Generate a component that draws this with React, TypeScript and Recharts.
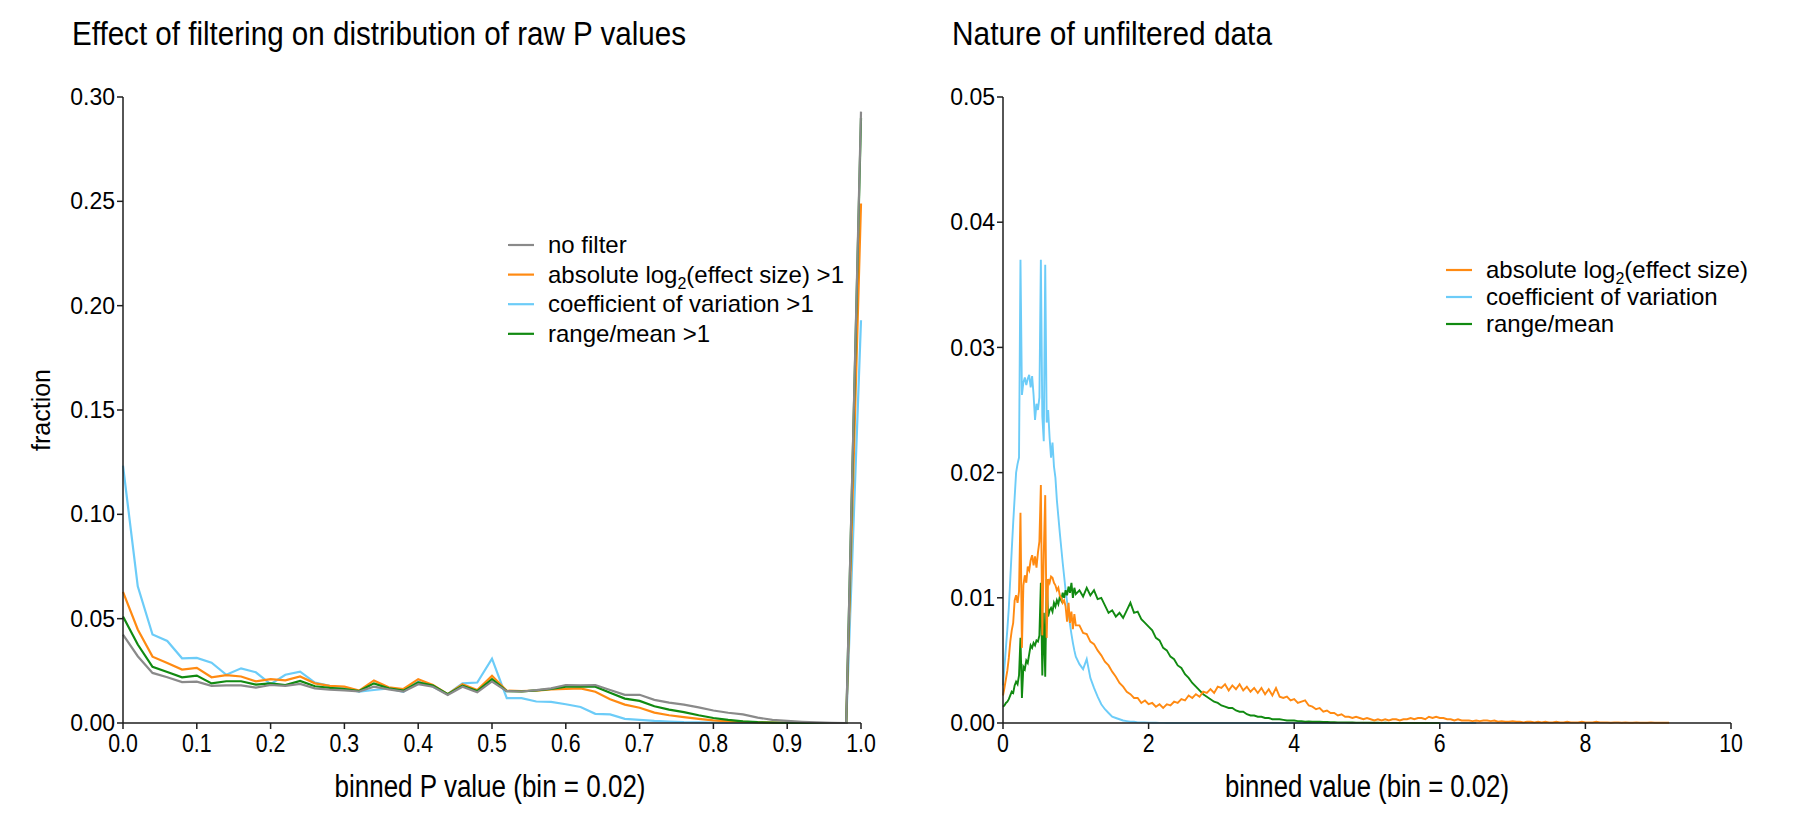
import React from "react";
import { LineChart, Line, XAxis, YAxis } from "recharts";

const ARIAL = '"Liberation Sans", Arial, sans-serif';

const GRAY = "#8a8a8a";
const ORANGE = "#ff8a12";
const BLUE = "#6cccf8";
const GREEN = "#118a11";
const AXIS = "#1e1e1e";

// ---- left panel: fraction of genes per raw P value bin (bin = 0.02) ----
const pBins = Array.from({ length: 51 }, (_, i) => Math.round(i * 2) / 100);

const noFilter = [
  0.0424, 0.032, 0.024, 0.0219, 0.0196, 0.0198, 0.0178, 0.018, 0.018, 0.017,
  0.0182, 0.0178, 0.0187, 0.0166, 0.016, 0.0156, 0.0151, 0.0174, 0.0161, 0.015,
  0.0186, 0.0174, 0.0134, 0.0174, 0.0147, 0.0199, 0.0153, 0.0151, 0.0158, 0.0166,
  0.0182, 0.0181, 0.0182, 0.0158, 0.0135, 0.0135, 0.0111, 0.0098, 0.0088, 0.0075,
  0.006, 0.0049, 0.0041, 0.0026, 0.0015, 0.001, 0.0006, 0.0003, 0.0001, 0, 0.293,
];
const absLog2 = [
  0.0628, 0.0448, 0.0318, 0.0287, 0.0256, 0.0264, 0.0219, 0.0229, 0.0223, 0.02,
  0.021, 0.0204, 0.0223, 0.019, 0.0178, 0.0174, 0.0155, 0.0204, 0.0171, 0.0163,
  0.021, 0.0182, 0.0138, 0.0186, 0.0158, 0.0226, 0.0155, 0.0153, 0.0155, 0.0161,
  0.0164, 0.0166, 0.015, 0.0114, 0.0088, 0.0073, 0.005, 0.0037, 0.0028, 0.002,
  0.0013, 0.0008, 0.0005, 0.0003, 0.0002, 0.0001, 0, 0, 0, 0, 0.249,
];
const coefVar = [
  0.1233, 0.0655, 0.0424, 0.0393, 0.031, 0.0312, 0.0289, 0.0231, 0.0262, 0.0243,
  0.0186, 0.0231, 0.0246, 0.0194, 0.0178, 0.0166, 0.015, 0.0158, 0.0166, 0.015,
  0.0199, 0.0174, 0.0138, 0.019, 0.0194, 0.0308, 0.0119, 0.0119, 0.0103, 0.0101,
  0.009, 0.0077, 0.0044, 0.0041, 0.002, 0.0015, 0.001, 0.0007, 0.0004, 0.0003,
  0.0002, 0.0001, 0.0001, 0, 0, 0, 0, 0, 0, 0, 0.193,
];
const rangeMean = [
  0.051, 0.0376, 0.0269, 0.0244, 0.0219, 0.0227, 0.019, 0.02, 0.02, 0.0184,
  0.019, 0.0182, 0.0202, 0.0176, 0.0168, 0.0163, 0.0153, 0.019, 0.0166, 0.0155,
  0.0195, 0.0179, 0.0138, 0.0179, 0.0153, 0.021, 0.0153, 0.0151, 0.0156, 0.0163,
  0.0174, 0.0174, 0.0174, 0.0145, 0.0117, 0.0106, 0.008, 0.0064, 0.0052, 0.0037,
  0.0024, 0.0015, 0.0008, 0.0004, 0.0002, 0.0001, 0, 0, 0, 0, 0.29,
];

const pTicks = [0, 0.1, 0.2, 0.3, 0.4, 0.5, 0.6, 0.7, 0.8, 0.9, 1];
const fracTicks = [0, 0.05, 0.1, 0.15, 0.2, 0.25, 0.3];

// ---- right panel: binned statistic values (bin = 0.02 near 0, coarser tail) ----
const fineBins = Array.from({ length: 51 }, (_, i) => Math.round(i * 2) / 100);
const tailBins = Array.from({ length: 163 }, (_, i) => Math.round(105 + i * 5) / 100);

const effFine = [
  0.0022, 0.0028, 0.0035, 0.0042, 0.0052, 0.0065, 0.0074, 0.008, 0.0098, 0.0102,
  0.0096, 0.0105, 0.0168, 0.006, 0.011, 0.0118, 0.0112, 0.0125, 0.0122, 0.013,
  0.0134, 0.0126, 0.0133, 0.0124, 0.0136, 0.0145, 0.019, 0.007, 0.0135, 0.0182,
  0.0068, 0.0115, 0.0112, 0.0117, 0.0116, 0.0112, 0.011, 0.0106, 0.0108, 0.0102,
  0.01, 0.0096, 0.0098, 0.0093, 0.0081, 0.0096, 0.008, 0.0089, 0.0075, 0.0087, 0.0078,
];
const effTail = [
  0.0078, 0.0072, 0.0071, 0.0065, 0.0063, 0.0058, 0.0054, 0.0049, 0.0046, 0.0041,
  0.0037, 0.0032, 0.0029, 0.0025, 0.0023, 0.002, 0.002, 0.0016, 0.0018, 0.0015,
  0.0016, 0.0013, 0.0015, 0.0012, 0.0015, 0.0014, 0.0017, 0.0016, 0.0019, 0.0018,
  0.0022, 0.002, 0.0023, 0.0021, 0.0025, 0.0024, 0.0027, 0.0024, 0.0029, 0.0028,
  0.0031, 0.0026, 0.003, 0.0027, 0.0031, 0.0026, 0.0029, 0.0025, 0.0028, 0.0024,
  0.0028, 0.0023, 0.0027, 0.0022, 0.0028, 0.0021, 0.002, 0.0021, 0.0018, 0.0019,
  0.0016, 0.0017, 0.0018, 0.0014, 0.0013, 0.0011, 0.0012, 0.0009, 0.001, 0.0008,
  0.0008, 0.0006, 0.0007, 0.0005, 0.0005, 0.0004, 0.0005, 0.0004, 0.0003, 0.0004,
  0.0003, 0.0002, 0.0003, 0.0002, 0.0003, 0.0002, 0.0003, 0.0003, 0.0002, 0.0003,
  0.0003, 0.0004, 0.0003, 0.0004, 0.0004, 0.0003, 0.0005, 0.0004, 0.0005, 0.0004,
  0.0004, 0.0003, 0.0003, 0.0002, 0.0003, 0.0002, 0.0002, 0.0002, 0.00015, 0.0002,
  0.00015, 0.0002, 0.0002, 0.00015, 0.0002, 0.0001, 0.00015, 0.0001, 0.0001, 0.00015,
  0.0001, 0.0001, 0.00005, 0.0001, 0.0001, 0.00005, 0.0001, 0.00005, 0.0001, 0.00005,
  0.00005, 0.0001, 0.00005, 0.00005, 0.0001, 0.00005, 0.00005, 0.00005, 0.0001, 0.00005,
  0.00005, 0.00005, 0.0001, 0.00005, 0.00005, 0.00005, 0.00002, 0.00005, 0.00005, 0.00002,
  0.00005, 0.00002, 0.00002, 0.00005, 0.00002, 0.00002, 0.00002, 0.00005, 0.00002, 0.00002,
  0.00002, 0.00002, 0.00002,
];

const cvFine = [
  0.003, 0.0045, 0.006, 0.0075, 0.0092, 0.0115, 0.0138, 0.016, 0.018, 0.02,
  0.0207, 0.0212, 0.037, 0.0262, 0.0272, 0.0276, 0.027, 0.0275, 0.0278, 0.0268,
  0.0277, 0.0262, 0.0242, 0.0255, 0.025, 0.026, 0.037, 0.0245, 0.0225, 0.0366,
  0.024, 0.025, 0.0228, 0.0212, 0.0224, 0.0205, 0.0196, 0.0178, 0.0165, 0.0152,
  0.014, 0.0128, 0.0117, 0.0106, 0.0097, 0.0088, 0.0079, 0.0071, 0.0064, 0.0058, 0.0053,
];
const cvTail = [
  0.0047, 0.0043, 0.0051, 0.0036, 0.0028, 0.0021, 0.0015, 0.0011, 0.0008, 0.0005,
  0.0004, 0.0003, 0.0002, 0.00015, 0.0001, 0.0001, 0.00005, 0.00005, 0.00005, 0.00003,
  0.00002, 0.00002, 0.00001, 0.00001, 0, 0.00001, 0, 0, 0, 0,
  0, 0, 0, 0, 0, 0, 0, 0, 0, 0,
  0, 0, 0, 0, 0, 0, 0, 0, 0, 0,
  0, 0, 0, 0, 0, 0, 0, 0, 0, 0,
  0, 0, 0, 0, 0, 0, 0, 0, 0, 0,
  0, 0, 0, 0, 0, 0, 0, 0, 0, 0,
  0, 0, 0, 0, 0, 0, 0, 0, 0, 0,
  0, 0, 0, 0, 0, 0, 0, 0, 0, 0,
  0, 0, 0, 0, 0, 0, 0, 0, 0, 0,
];

const rmFine = [
  0.0013, 0.0014, 0.0016, 0.0017, 0.0019, 0.0022, 0.0025, 0.0024, 0.003, 0.0033,
  0.0031, 0.0038, 0.0068, 0.002, 0.0045, 0.0043, 0.005, 0.0048, 0.0055, 0.0062,
  0.006, 0.0064, 0.0062, 0.0066, 0.0065, 0.007, 0.0112, 0.0038, 0.0088, 0.0037,
  0.0115, 0.0085, 0.009, 0.0092, 0.0089, 0.0096, 0.0093, 0.0098, 0.0095, 0.0101,
  0.0098, 0.0104, 0.01, 0.0106, 0.0102, 0.0109, 0.0104, 0.0112, 0.01, 0.0108, 0.0103,
];
const rmTail = [
  0.0106, 0.0101, 0.0108, 0.0102, 0.0106, 0.0099, 0.01, 0.0094, 0.0088, 0.009,
  0.0085, 0.0088, 0.0084, 0.009, 0.0096, 0.0088, 0.0089, 0.0083, 0.008, 0.0077,
  0.0074, 0.0068, 0.0066, 0.006, 0.0058, 0.0053, 0.0051, 0.0046, 0.0044, 0.0039,
  0.0036, 0.0032, 0.0029, 0.0026, 0.0023, 0.0021, 0.0019, 0.0017, 0.0016, 0.0014,
  0.0013, 0.0012, 0.0012, 0.001, 0.0009, 0.0009, 0.0007, 0.0006, 0.0006, 0.0005,
  0.0005, 0.0004, 0.0004, 0.0003, 0.0003, 0.0003, 0.00025, 0.0002, 0.0002, 0.0002,
  0.00015, 0.00015, 0.0001, 0.00012, 0.0001, 0.0001, 0.0001, 0.00008, 0.00008, 0.00006,
  0.00006, 0.00005, 0.00005, 0.00005, 0.00004, 0.00004, 0.00003, 0.00003, 0.00003, 0.00003,
  0.00002, 0.00002, 0.00002, 0.00001, 0.00002, 0.00001, 0.00001, 0.00001, 0, 0.00001,
  0, 0.00001, 0, 0, 0.00001, 0, 0, 0, 0, 0,
];

const valueTicks = [0, 2, 4, 6, 8, 10];
const densTicks = [0, 0.01, 0.02, 0.03, 0.04, 0.05];

const leftRows = pBins.map((x, i) => ({
  x,
  none: noFilter[i],
  eff: absLog2[i],
  cv: coefVar[i],
  rm: rangeMean[i],
}));

const rightRows = [
  ...fineBins.map((x, i) => ({ x, eff: effFine[i], cv: cvFine[i], rm: rmFine[i] })),
  ...tailBins.map((x, i) => ({ x, eff: effTail[i], cv: cvTail[i], rm: rmTail[i] })),
];

const axisLine = { stroke: AXIS, strokeWidth: 1.5 };
const yTick = { fill: "#000", fontSize: 23, fontFamily: ARIAL };

// condensed tick text (the original uses a narrow sans face)
function NarrowTick(props: any) {
  const { x, y, payload, digits } = props;
  const label = digits ? Number(payload.value).toFixed(digits) : String(payload.value);
  return (
    <text
      x={0}
      y={0}
      dy="0.71em"
      textAnchor="middle"
      fontSize={26}
      fontFamily={ARIAL}
      fill="#000"
      transform={`translate(${x},${y}) scale(0.82,1)`}
    >
      {label}
    </text>
  );
}

function NarrowText({ x, y, width, size, anchor, children }: any) {
  return (
    <text
      x={x}
      y={y}
      fontSize={size}
      fontFamily={ARIAL}
      textAnchor={anchor || "start"}
      textLength={width}
      lengthAdjust="spacingAndGlyphs"
      fill="#000"
    >
      {children}
    </text>
  );
}

function LegendBlock({ x, y, gap, items }: { x: number; y: number; gap: number; items: { color: string; label: React.ReactNode }[] }) {
  return (
    <g>
      {items.map((it, i) => (
        <g key={i}>
          <line x1={x} x2={x + 26} y1={y + i * gap} y2={y + i * gap} stroke={it.color} strokeWidth={2.2} />
          <text x={x + 40} y={y + i * gap + 8} fontSize={24} fontFamily={ARIAL} fill="#000">
            {it.label}
          </text>
        </g>
      ))}
    </g>
  );
}

const log2Label = (suffix: string) => (
  <>
    absolute log
    <tspan fontSize={16} dy={6}>2</tspan>
    <tspan dy={-6}>(effect size){suffix}</tspan>
  </>
);

export default function App() {
  return (
    <div style={{ position: "relative", width: 1805, height: 821, background: "#fff" }}>
      <style>{"body{margin:0}"}</style>

      <div style={{ position: "absolute", left: 0, top: 0 }}>
        <LineChart width={900} height={821} data={leftRows} margin={{ top: 97, right: 39, bottom: 58, left: 63 }}>
          <XAxis
            dataKey="x"
            type="number"
            domain={[0, 1]}
            ticks={pTicks}
            interval={0}
            height={40}
            axisLine={axisLine}
            tickLine={axisLine}
            tick={<NarrowTick digits={1} />}
            tickMargin={5}
          />
          <YAxis
            type="number"
            domain={[0, 0.3]}
            ticks={fracTicks}
            interval={0}
            tickFormatter={(v: number) => v.toFixed(2)}
            width={60}
            axisLine={axisLine}
            tickLine={axisLine}
            tick={yTick}
          />
          <Line dataKey="cv" stroke={BLUE} strokeWidth={2.2} dot={false} isAnimationActive={false} />
          <Line dataKey="eff" stroke={ORANGE} strokeWidth={2.2} dot={false} isAnimationActive={false} />
          <Line dataKey="rm" stroke={GREEN} strokeWidth={2.2} dot={false} isAnimationActive={false} />
          <Line dataKey="none" stroke={GRAY} strokeWidth={2.2} dot={false} isAnimationActive={false} />
        </LineChart>
      </div>

      <div style={{ position: "absolute", left: 900, top: 0 }}>
        <LineChart width={905} height={821} data={rightRows} margin={{ top: 97, right: 74, bottom: 58, left: 43 }}>
          <XAxis
            dataKey="x"
            type="number"
            domain={[0, 10]}
            ticks={valueTicks}
            interval={0}
            height={40}
            axisLine={axisLine}
            tickLine={axisLine}
            tick={<NarrowTick />}
            tickMargin={5}
          />
          <YAxis
            type="number"
            domain={[0, 0.05]}
            ticks={densTicks}
            interval={0}
            tickFormatter={(v: number) => v.toFixed(2)}
            width={60}
            axisLine={axisLine}
            tickLine={axisLine}
            tick={yTick}
          />
          <Line dataKey="cv" stroke={BLUE} strokeWidth={1.9} dot={false} isAnimationActive={false} />
          <Line dataKey="rm" stroke={GREEN} strokeWidth={1.9} dot={false} isAnimationActive={false} />
          <Line dataKey="eff" stroke={ORANGE} strokeWidth={1.9} dot={false} isAnimationActive={false} />
        </LineChart>
      </div>

      <svg width={1805} height={821} style={{ position: "absolute", left: 0, top: 0, pointerEvents: "none" }}>
        <NarrowText x={72} y={45} width={614} size={33}>
          Effect of filtering on distribution of raw P values
        </NarrowText>
        <NarrowText x={952} y={45} width={320} size={33}>
          Nature of unfiltered data
        </NarrowText>
        <NarrowText x={490} y={797} width={311} size={31} anchor="middle">
          binned P value (bin = 0.02)
        </NarrowText>
        <NarrowText x={1367} y={797} width={284} size={31} anchor="middle">
          binned value (bin = 0.02)
        </NarrowText>
        <text transform="translate(50,410) rotate(-90)" fontSize={25} fontFamily={ARIAL} textAnchor="middle" fill="#000">
          fraction
        </text>
        <LegendBlock
          x={508}
          y={245}
          gap={29.6}
          items={[
            { color: GRAY, label: "no filter" },
            { color: ORANGE, label: log2Label(" >1") },
            { color: BLUE, label: "coefficient of variation >1" },
            { color: GREEN, label: "range/mean >1" },
          ]}
        />
        <LegendBlock
          x={1446}
          y={270}
          gap={27}
          items={[
            { color: ORANGE, label: log2Label("") },
            { color: BLUE, label: "coefficient of variation" },
            { color: GREEN, label: "range/mean" },
          ]}
        />
      </svg>
    </div>
  );
}
